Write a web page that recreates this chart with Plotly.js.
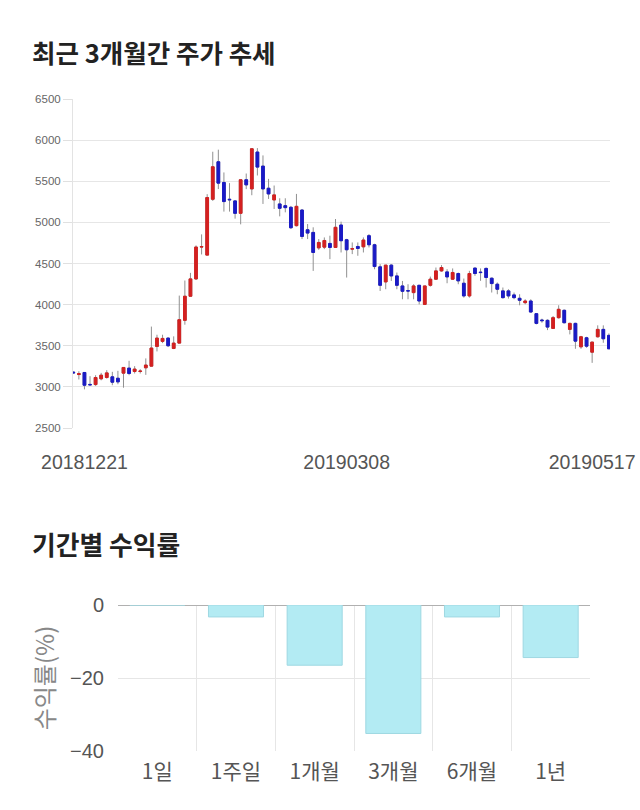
<!DOCTYPE html>
<html>
<head>
<meta charset="utf-8">
<script src="https://cdn.plot.ly/plotly-3.0.1.min.js"></script>
<style>html,body{margin:0;padding:0;background:#fff;}#chart{width:640px;height:810px;}</style>
</head>
<body>
<div id="chart"></div>
<script>
var dates = [
"20181221","20181224","20181226","20181227","20181228",
"20190102","20190103","20190104","20190107","20190108","20190109","20190110","20190111",
"20190114","20190115","20190116","20190117","20190118","20190121","20190122","20190123",
"20190124","20190125","20190128","20190129","20190130","20190131",
"20190201","20190207","20190208","20190211","20190212","20190213","20190214","20190215",
"20190218","20190219","20190220","20190221","20190222","20190225","20190226","20190227","20190228",
"20190304","20190305","20190306","20190307","20190308","20190311","20190312","20190313","20190314","20190315",
"20190318","20190319","20190320","20190321","20190322","20190325","20190326","20190327","20190328","20190329",
"20190401","20190402","20190403","20190404","20190405","20190408","20190409","20190410","20190411","20190412",
"20190415","20190416","20190417","20190418","20190419","20190422","20190423","20190424","20190425","20190426",
"20190429","20190430",
"20190502","20190503","20190507","20190508","20190509","20190510",
"20190513","20190514","20190515","20190516","20190517"
];
var openP = [3180,3150,3175,3030,3028,3098,3114,3122,3105,3167,3228,3187,3187,3232,3252,3492,3553,3593,3467,3532,
3809,4102,4313,4700,4602,5281,5737,5485,5281,5261,5110,5518,5407,5855,5684,5415,5273,5224,5203,5183,
4960,5150,4910,4878,4690,4699,4744,4695,4968,4789,4675,4707,4703,4838,4728,4459,4276,4480,4349,4227,
4170,4146,4235,4003,4235,4309,4410,4398,4309,4378,4260,4106,4444,4395,4440,4321,4248,4167,4167,4118,
4077,4024,4044,3890,3813,3809,3711,3841,3931,3699,3772,3487,3597,3422,3609,3699,3626];
var highP = [3185,3190,3180,3130,3142,3170,3203,3183,3195,3240,3317,3252,3215,3346,3733,3634,3634,3600,3614,4110,
4293,4386,4720,4854,5343,5859,5884,5607,5477,5270,5518,5594,5903,5903,5814,5529,5448,5293,5293,5200,
5346,5160,4980,4940,4797,4817,4838,5041,5009,4800,4756,4756,4817,4858,4740,4492,4480,4492,4390,4288,
4248,4248,4240,4227,4341,4451,4480,4431,4440,4390,4317,4411,4452,4440,4452,4330,4269,4208,4187,4147,
4126,4065,4065,3895,3829,3821,3862,3992,3940,3780,3780,3620,3609,3548,3748,3748,3650];
var lowP = [3165,3090,2970,3020,3012,3080,3100,3020,3032,2990,3142,3163,3163,3146,3250,3431,3532,3484,3459,3530,
3756,4100,4300,4610,4600,5261,5405,5131,5131,5045,4976,5404,5330,5570,5224,5285,5163,5073,5122,4919,
4950,4797,4797,4410,4666,4675,4553,4690,4634,4329,4614,4594,4634,4695,4430,4166,4187,4288,4187,4065,
4065,4065,4003,3995,4219,4300,4400,4260,4300,4248,4085,4085,4350,4289,4208,4147,4126,4073,4073,4065,
3992,4004,3902,3760,3780,3690,3711,3830,3772,3638,3463,3463,3475,3292,3600,3536,3460];
var closeP = [3170,3160,3020,3025,3114,3142,3170,3057,3061,3236,3163,3216,3192,3265,3472,3593,3589,3500,3532,3817,
4102,4313,4700,4705,5302,5676,5477,5253,5275,5110,5518,5456,5895,5672,5407,5346,5334,5171,5179,4935,
5195,4829,4870,4634,4756,4780,4695,4940,4777,4667,4680,4683,4785,4728,4463,4235,4480,4349,4235,4162,
4166,4227,4044,4227,4309,4410,4451,4337,4391,4289,4106,4378,4378,4390,4330,4256,4187,4085,4106,4085,
4053,4044,3910,3772,3805,3727,3841,3943,3780,3772,3556,3609,3495,3544,3699,3585,3463];

var periods = ["1일","1주일","1개월","3개월","6개월","1년"];
var returns = [0, -3.27, -16.5, -35.2, -3.27, -14.4];

var xTickVals = [dates[2], dates[49], dates[93]];
var xTickText = [dates[0], dates[48], dates[96]];

var bodyHigh = openP.map(function(o,i){return Math.max(o, closeP[i]);});
var bodyLow = openP.map(function(o,i){return Math.min(o, closeP[i]);});

var RED = '#d42020', BLUE = '#1a1ac6', WICK = '#909090';
var FONT = 'Liberation Sans, Arial, Noto Sans CJK KR, sans-serif';
var KFONT = 'Noto Sans CJK KR, sans-serif';

var traces = [
  {type:'candlestick', x:dates, open:openP, high:highP, low:lowP, close:closeP,
   xaxis:'x', yaxis:'y', whiskerwidth:0,
   increasing:{line:{color:WICK,width:1}, fillcolor:WICK},
   decreasing:{line:{color:WICK,width:1}, fillcolor:WICK},
   hoverinfo:'skip', showlegend:false},
  {type:'candlestick', x:dates, open:openP, high:bodyHigh, low:bodyLow, close:closeP,
   xaxis:'x', yaxis:'y', whiskerwidth:0,
   increasing:{line:{color:RED,width:1}, fillcolor:RED},
   decreasing:{line:{color:BLUE,width:1}, fillcolor:BLUE},
   showlegend:false},
  {type:'bar', x:periods, y:returns, xaxis:'x2', yaxis:'y2', width:0.7,
   marker:{color:'#b3ebf3', line:{color:'#9fd8e2', width:1}}, showlegend:false}
];

var layout = {
  width:640, height:810,
  margin:{l:0,r:0,t:0,b:0},
  paper_bgcolor:'#fff', plot_bgcolor:'#fff',
  font:{family:FONT, color:'#555'},
  showlegend:false,
  boxmode:'overlay', boxgap:0.3,
  xaxis:{domain:[73/640, 610/640], anchor:'y', type:'category', range:[-0.05, 96.2],
    rangeslider:{visible:false}, showgrid:false, zeroline:false, showline:false,
    tickmode:'array', tickvals:xTickVals, ticktext:xTickText,
    ticks:'outside', ticklen:17, tickcolor:'rgba(0,0,0,0)',
    tickfont:{size:19.5, color:'#555', family:FONT}, fixedrange:true},
  yaxis:{domain:[1-428/810, 1-99/810], anchor:'x', range:[2500,6500], dtick:500, tick0:2500,
    showgrid:true, gridcolor:'#e6e6e6', zeroline:false,
    showline:true, linecolor:'#e3e3e3', linewidth:1,
    ticks:'outside', ticklen:9, tickcolor:'#e0e0e0',
    tickfont:{size:11.5, color:'#666', family:FONT}},
  xaxis2:{domain:[118/640, 590/640], anchor:'y2', type:'category',
    tickson:'boundaries', showgrid:true, gridcolor:'#e6e6e6', zeroline:false, showline:false,
    ticks:'outside', ticklen:13, tickcolor:'rgba(0,0,0,0)', ticklabelstandoff:6,
    tickfont:{size:21, color:'#555', family:KFONT}},
  yaxis2:{domain:[1-751/810, 1-605/810], anchor:'x2', range:[-40,0], dtick:20, tick0:0,
    showgrid:true, gridcolor:'#e6e6e6', zeroline:true, zerolinecolor:'#b0b0b0', zerolinewidth:1,
    showline:false, ticks:'outside', ticklen:9, tickcolor:'rgba(0,0,0,0)',
    tickfont:{size:20, color:'#555', family:FONT},
    title:{text:'수익률(%)', font:{size:24, color:'#888', family:KFONT}, standoff:8}},
  annotations:[
    {xref:'paper', yref:'paper', x:30/640, y:1-51/810, xanchor:'left', yanchor:'middle', showarrow:false,
     text:'<b>최근 3개월간 주가 추세</b>', font:{size:25.5, color:'#222', family:KFONT}},
    {xref:'paper', yref:'paper', x:30/640, y:1-543/810, xanchor:'left', yanchor:'middle', showarrow:false,
     text:'<b>기간별 수익률</b>', font:{size:25.8, color:'#222', family:KFONT}}
  ]
};

Plotly.newPlot('chart', traces, layout, {staticPlot:true, displayModeBar:false});
</script>
</body>
</html>
